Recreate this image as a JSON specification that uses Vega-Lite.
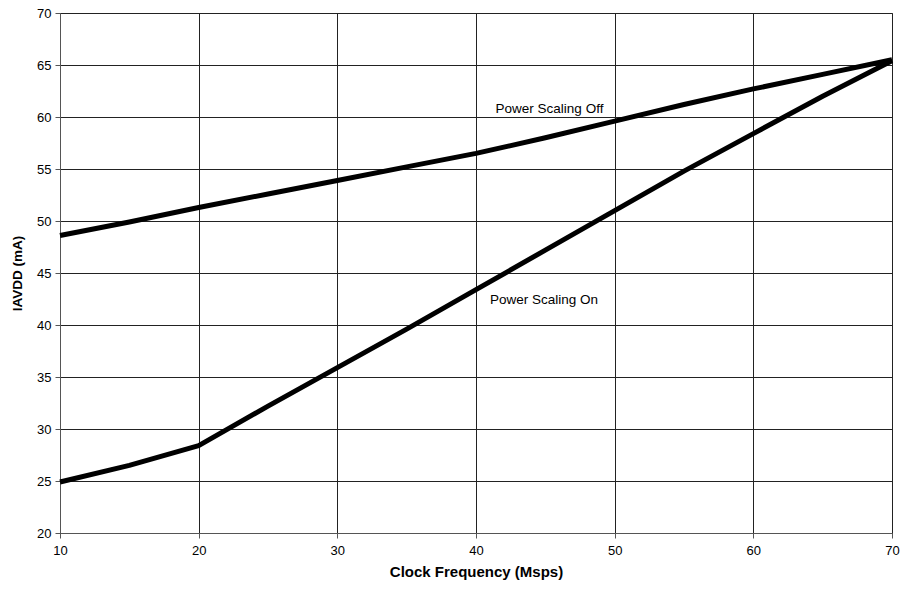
{
  "$schema": "https://vega.github.io/schema/vega-lite/v6.json",
  "autosize": "none",
  "width": 832,
  "height": 520,
  "padding": {"left": 60, "top": 13, "right": 9, "bottom": 57},
  "background": "white",
  "config": {
    "font": "Liberation Sans",
    "view": {"stroke": "#555", "strokeWidth": 1}
  },
  "datasets": {
    "lines": [
      {"freq": 10, "iavdd": 48.6, "mode": "Power Scaling Off"},
      {"freq": 15, "iavdd": 49.9, "mode": "Power Scaling Off"},
      {"freq": 20, "iavdd": 51.3, "mode": "Power Scaling Off"},
      {"freq": 25, "iavdd": 52.6, "mode": "Power Scaling Off"},
      {"freq": 30, "iavdd": 53.9, "mode": "Power Scaling Off"},
      {"freq": 35, "iavdd": 55.2, "mode": "Power Scaling Off"},
      {"freq": 40, "iavdd": 56.5, "mode": "Power Scaling Off"},
      {"freq": 45, "iavdd": 58.0, "mode": "Power Scaling Off"},
      {"freq": 50, "iavdd": 59.6, "mode": "Power Scaling Off"},
      {"freq": 55, "iavdd": 61.2, "mode": "Power Scaling Off"},
      {"freq": 60, "iavdd": 62.7, "mode": "Power Scaling Off"},
      {"freq": 65, "iavdd": 64.1, "mode": "Power Scaling Off"},
      {"freq": 70, "iavdd": 65.5, "mode": "Power Scaling Off"},
      {"freq": 10, "iavdd": 24.9, "mode": "Power Scaling On"},
      {"freq": 15, "iavdd": 26.5, "mode": "Power Scaling On"},
      {"freq": 20, "iavdd": 28.4, "mode": "Power Scaling On"},
      {"freq": 25, "iavdd": 32.2, "mode": "Power Scaling On"},
      {"freq": 30, "iavdd": 35.9, "mode": "Power Scaling On"},
      {"freq": 35, "iavdd": 39.6, "mode": "Power Scaling On"},
      {"freq": 40, "iavdd": 43.4, "mode": "Power Scaling On"},
      {"freq": 45, "iavdd": 47.2, "mode": "Power Scaling On"},
      {"freq": 50, "iavdd": 51.0, "mode": "Power Scaling On"},
      {"freq": 55, "iavdd": 54.8, "mode": "Power Scaling On"},
      {"freq": 60, "iavdd": 58.4, "mode": "Power Scaling On"},
      {"freq": 65, "iavdd": 62.0, "mode": "Power Scaling On"},
      {"freq": 70, "iavdd": 65.4, "mode": "Power Scaling On"}
    ],
    "labels": [
      {"freq": 45.3, "iavdd": 60.8, "text": "Power Scaling Off"},
      {"freq": 44.9, "iavdd": 42.4, "text": "Power Scaling On"}
    ]
  },
  "layer": [
    {
      "data": {"name": "lines"},
      "mark": {"type": "line", "color": "black", "strokeWidth": 5, "strokeJoin": "round", "strokeCap": "butt"},
      "encoding": {
        "x": {
          "field": "freq", "type": "quantitative",
          "scale": {"domain": [10, 70], "nice": false, "zero": false},
          "axis": {
            "title": "Clock Frequency (Msps)", "values": [10, 20, 30, 40, 50, 60, 70],
            "grid": true, "gridColor": "#222", "gridOpacity": 1, "gridWidth": 1,
            "domainColor": "#555", "tickColor": "#555", "tickSize": 5,
            "labelFlush": false, "labelOverlap": false,
            "labelFontSize": 13, "labelColor": "black", "labelPadding": 6,
            "titleFontSize": 15, "titleFontWeight": "bold", "titleColor": "black", "titlePadding": 7
          }
        },
        "y": {
          "field": "iavdd", "type": "quantitative",
          "scale": {"domain": [20, 70], "nice": false, "zero": false},
          "axis": {
            "title": "IAVDD (mA)", "values": [20, 25, 30, 35, 40, 45, 50, 55, 60, 65, 70],
            "grid": true, "gridColor": "#222", "gridOpacity": 1, "gridWidth": 1,
            "domainColor": "#555", "tickColor": "#555", "tickSize": 5,
            "labelFlush": false, "labelOverlap": false,
            "labelFontSize": 13, "labelColor": "black", "labelPadding": 4,
            "titleFontSize": 13.5, "titleFontWeight": "bold", "titleColor": "black", "titlePadding": 12
          }
        },
        "detail": {"field": "mode"}
      }
    },
    {
      "data": {"name": "labels"},
      "mark": {"type": "text", "fontSize": 13.5, "color": "black", "align": "center", "baseline": "middle"},
      "encoding": {
        "x": {"field": "freq", "type": "quantitative"},
        "y": {"field": "iavdd", "type": "quantitative"},
        "text": {"field": "text"}
      }
    }
  ]
}
